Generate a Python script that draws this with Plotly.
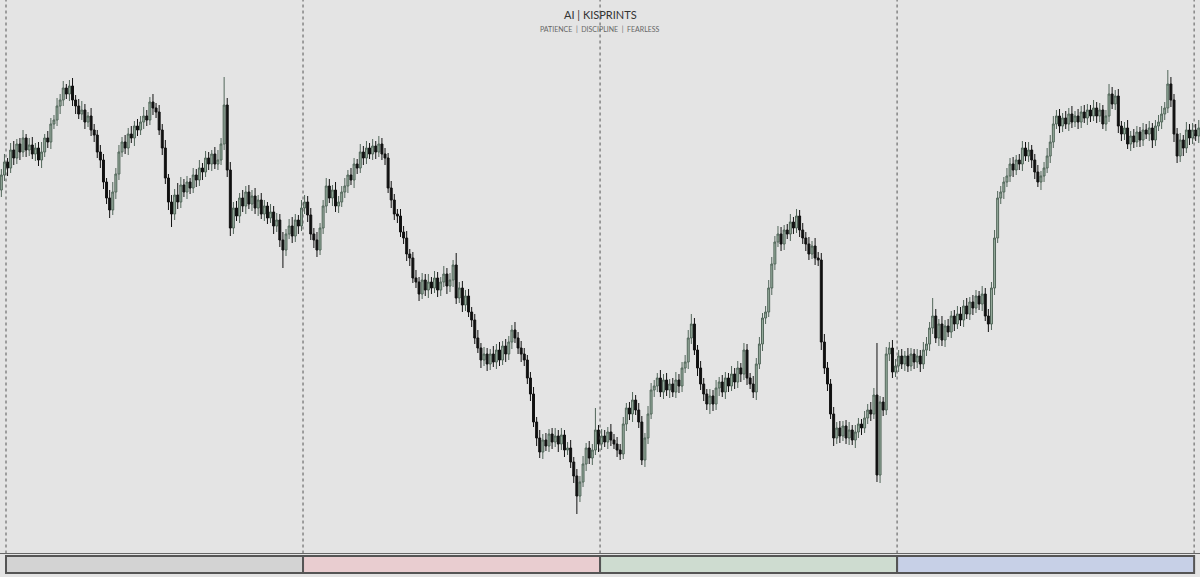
import plotly.graph_objects as go

# ---- data (price points, 15-minute bars) ----
first_open = 410
close = [
    425, 438, 432, 450, 442, 456, 448, 462, 450, 455,
    446, 452, 440, 448, 462, 458, 476, 480, 494, 500,
    512, 506, 514, 500, 494, 486, 490, 478, 484, 470,
    465, 448, 440, 418, 402, 390, 408, 426, 448, 458,
    452, 466, 462, 474, 470, 478, 484, 480, 498, 492,
    488, 470, 452, 422, 398, 386, 405, 398, 415, 408,
    418, 412, 425, 420, 432, 428, 442, 436, 446, 436,
    440, 456, 495, 430, 372, 392, 384, 402, 394, 408,
    396, 404, 392, 400, 386, 394, 382, 388, 374, 380,
    360, 350, 366, 374, 364, 380, 374, 392, 398, 385,
    366, 360, 350, 372, 394, 414, 402, 410, 394, 398,
    408, 414, 425, 420, 436, 432, 448, 442, 452, 446,
    454, 448, 456, 446, 442, 412, 400, 386, 384, 368,
    362, 346, 342, 322, 318, 306, 320, 310, 318, 312,
    322, 310, 318, 326, 314, 320, 335, 302, 312, 295,
    304, 288, 280, 262, 252, 240, 246, 236, 246, 238,
    250, 240, 254, 246, 258, 270, 262, 252, 246, 240,
    222, 206, 178, 162, 148, 160, 154, 166, 158, 164,
    156, 165, 150, 152, 138, 124, 104, 118, 136, 152,
    142, 150, 170, 156, 164, 158, 168, 160, 156, 150,
    146, 176, 192, 186, 200, 190, 178, 140, 162, 186,
    210, 214, 222, 208, 220, 210, 216, 208, 220, 214,
    232, 238, 262, 276, 250, 232, 216, 206, 196, 204,
    196, 212, 218, 208, 222, 214, 226, 218, 232, 226,
    250, 222, 216, 208, 236, 256, 282, 288, 312, 336,
    358, 366, 356, 370, 366, 378, 372, 384, 370, 362,
    356, 346, 354, 342, 340, 258, 232, 216, 186, 162,
    172, 164, 174, 162, 170, 160, 168, 176, 172, 182,
    190, 186, 205, 125, 198, 190, 246, 252, 228, 234,
    244, 236, 244, 234, 246, 238, 244, 236, 250, 256,
    272, 284, 262, 276, 260, 274, 268, 284, 276, 286,
    280, 294, 286, 298, 292, 304, 296, 306, 284, 276,
    312, 362, 402, 408, 418, 424, 436, 430, 440, 436,
    452, 444, 450, 440, 428, 418, 424, 432, 444, 458,
    476, 484, 474, 482, 476, 486, 478, 484, 478, 488,
    482, 490, 484, 492, 484, 490, 476, 484, 506, 496,
    504, 474, 466, 472, 456, 464, 458, 468, 460, 470,
    466, 472, 460, 474, 478, 486, 492, 516, 500, 466,
    444, 460, 452, 470, 462, 470, 464, 472,
]
upper_wick = [
    6, 8, 4, 7, 9, 5, 6, 8, 4, 7,
    8, 5, 6, 10, 4, 7, 6, 5, 8, 6,
    7, 4, 6, 8, 5, 7, 9, 6, 4, 8,
    6, 5, 7, 6, 4, 8, 10, 6, 7, 5,
    7, 6, 8, 5, 7, 6, 9, 6, 5, 8,
    5, 7, 6, 8, 4, 7, 6, 12, 8, 6,
    6, 4, 7, 6, 8, 5, 7, 6, 4, 7,
    10, 6, 28, 7, 8, 6, 7, 5, 8, 6,
    7, 6, 8, 5, 7, 6, 4, 8, 6, 7,
    6, 8, 5, 7, 9, 6, 5, 8, 7, 6,
    7, 6, 8, 5, 6, 8, 7, 5, 8, 6,
    6, 8, 5, 7, 6, 5, 8, 6, 7, 5,
    7, 5, 8, 6, 6, 5, 7, 6, 5, 7,
    6, 7, 5, 6, 8, 5, 7, 6, 8, 5,
    7, 6, 5, 8, 6, 7, 5, 12, 6, 7,
    6, 7, 5, 6, 8, 5, 7, 6, 5, 8,
    6, 8, 5, 7, 6, 5, 8, 6, 7, 6,
    5, 6, 7, 5, 8, 6, 7, 5, 6, 8,
    6, 7, 5, 6, 8, 5, 7, 6, 8, 5,
    7, 6, 22, 5, 7, 6, 5, 8, 6, 7,
    6, 7, 5, 6, 8, 5, 7, 6, 5, 8,
    7, 6, 5, 8, 6, 7, 5, 6, 8, 6,
    6, 7, 8, 10, 6, 5, 7, 6, 5, 7,
    6, 8, 5, 7, 6, 5, 8, 6, 7, 5,
    7, 6, 5, 8, 6, 7, 5, 6, 8, 7,
    6, 8, 7, 5, 6, 8, 5, 7, 6, 7,
    6, 7, 5, 8, 6, 7, 8, 6, 5, 7,
    6, 7, 5, 6, 8, 5, 7, 6, 5, 7,
    6, 8, 7, 52, 6, 5, 7, 6, 8, 7,
    6, 7, 5, 8, 6, 5, 7, 6, 8, 7,
    6, 18, 7, 5, 8, 6, 7, 5, 6, 8,
    7, 6, 8, 5, 7, 6, 5, 8, 6, 7,
    6, 8, 7, 6, 5, 8, 6, 7, 5, 6,
    7, 6, 8, 5, 6, 7, 5, 6, 8, 7,
    8, 6, 7, 5, 7, 6, 8, 5, 7, 6,
    7, 6, 5, 8, 6, 7, 5, 6, 10, 7,
    6, 7, 5, 6, 8, 5, 7, 6, 5, 7,
    6, 7, 5, 6, 7, 8, 6, 14, 7, 6,
    6, 7, 5, 8, 6, 7, 6, 8,
]
lower_wick = [
    7, 6, 8, 5, 7, 6, 8, 5, 7, 6,
    5, 7, 6, 8, 5, 6, 7, 5, 6, 8,
    6, 5, 7, 6, 8, 5, 6, 7, 5, 6,
    7, 6, 8, 7, 6, 8, 5, 7, 6, 5,
    6, 7, 5, 8, 6, 5, 7, 6, 5, 7,
    6, 5, 7, 6, 8, 13, 6, 7, 6, 5,
    7, 6, 5, 7, 6, 8, 5, 6, 7, 5,
    6, 5, 6, 7, 8, 6, 5, 7, 6, 8,
    5, 7, 6, 8, 5, 7, 6, 5, 8, 6,
    7, 18, 6, 5, 7, 6, 8, 5, 6, 7,
    6, 8, 7, 5, 6, 7, 5, 8, 6, 7,
    5, 6, 7, 5, 8, 6, 5, 7, 6, 5,
    6, 7, 5, 6, 7, 5, 8, 6, 7, 5,
    6, 7, 8, 5, 6, 7, 5, 6, 8, 6,
    5, 7, 6, 5, 8, 6, 7, 6, 5, 7,
    6, 5, 7, 6, 5, 8, 6, 7, 6, 5,
    7, 6, 5, 8, 6, 7, 5, 6, 8, 6,
    6, 7, 5, 8, 6, 7, 5, 6, 7, 5,
    8, 6, 7, 5, 6, 7, 18, 6, 5, 7,
    6, 7, 5, 8, 6, 5, 7, 6, 5, 7,
    6, 5, 7, 6, 8, 5, 6, 5, 7, 6,
    5, 7, 6, 5, 7, 6, 8, 5, 6, 7,
    6, 5, 7, 6, 5, 8, 6, 7, 6, 10,
    7, 6, 8, 5, 7, 6, 5, 7, 6, 8,
    6, 7, 5, 6, 8, 5, 7, 6, 5, 7,
    6, 5, 7, 6, 5, 7, 6, 5, 7, 6,
    7, 6, 5, 7, 6, 8, 6, 7, 5, 8,
    6, 7, 5, 6, 7, 5, 8, 6, 7, 5,
    6, 7, 5, 7, 8, 6, 5, 7, 6, 5,
    6, 5, 7, 6, 5, 7, 6, 8, 5, 6,
    7, 6, 5, 8, 6, 7, 5, 6, 7, 5,
    6, 7, 5, 6, 7, 5, 6, 7, 5, 8,
    6, 7, 5, 6, 7, 5, 6, 7, 5, 6,
    7, 5, 6, 8, 7, 5, 8, 6, 5, 7,
    6, 5, 7, 6, 5, 7, 6, 5, 7, 6,
    5, 7, 6, 5, 7, 6, 5, 7, 6, 5,
    6, 7, 7, 6, 5, 7, 6, 5, 7, 6,
    5, 7, 8, 6, 5, 7, 6, 5, 7, 8,
    7, 6, 8, 5, 7, 6, 5, 7,
]
day_start_bars = [2, 98, 194, 290, 386]
session_colors = ["#d3d3d3", "#e9cdd0", "#cedcd0", "#c7d0e7"]
title_text = "AI | KISPRINTS"
subtitle_text = "PATIENCE  |  DISCIPLINE  |  FEARLESS"

n = len(close)
assert len(upper_wick) == n and len(lower_wick) == n, (n, len(upper_wick), len(lower_wick))

opens = [first_open] + close[:-1]
highs = [max(o, c) + u for o, c, u in zip(opens, close, upper_wick)]
lows = [min(o, c) - d for o, c, d in zip(opens, close, lower_wick)]
bars = list(range(n))

W, H = 1200, 577
fig = go.Figure(go.Candlestick(
    x=bars, open=opens, high=highs, low=lows, close=close,
    increasing=dict(line=dict(color="#52665a", width=1), fillcolor="#98ae9f"),
    decreasing=dict(line=dict(color="#111111", width=1), fillcolor="#111111"),
    whiskerwidth=0, hoverinfo="skip",
))

y_strip_line = 1 - 553.5 / H
box_top = 1 - 556 / H
box_bot = 1 - 573 / H

shapes = []
# period separators
for b in day_start_bars:
    shapes.append(dict(type="line", xref="x", yref="paper", x0=b - 0.5, x1=b - 0.5,
                       y0=y_strip_line, y1=1, line=dict(color="#555555", width=1, dash="dot")))
# bottom strip line
shapes.append(dict(type="line", xref="paper", yref="paper", x0=0, x1=1,
                   y0=y_strip_line, y1=y_strip_line, line=dict(color="#666666", width=1)))
# session boxes
for k, col in enumerate(session_colors):
    shapes.append(dict(type="rect", xref="x", yref="paper",
                       x0=day_start_bars[k] - 0.5, x1=day_start_bars[k + 1] - 0.5,
                       y0=box_bot, y1=box_top, fillcolor=col,
                       line=dict(color="#555555", width=2)))

fig.update_layout(
    width=W, height=H,
    margin=dict(l=0, r=0, t=0, b=0),
    paper_bgcolor="#e4e4e4", plot_bgcolor="#e4e4e4",
    showlegend=False,
    shapes=shapes,
    boxgap=0.1,
    xaxis=dict(range=[-0.44, 387.4], visible=False, rangeslider=dict(visible=False)),
    yaxis=dict(range=[23, 600], visible=False),
    annotations=[
        dict(text=title_text, x=0.5, y=1 - 14 / H, xref="paper", yref="paper",
             yanchor="middle", showarrow=False,
             font=dict(family="Lato, sans-serif", size=11, color="#333333")),
        dict(text=subtitle_text, x=0.5, y=1 - 29 / H, xref="paper", yref="paper",
             yanchor="middle", showarrow=False,
             font=dict(family="Lato, sans-serif", size=7, color="#666666")),
    ],
)

fig.write_html("out.html", config={"displayModeBar": False},
               post_script="document.body.style.margin='0';")
